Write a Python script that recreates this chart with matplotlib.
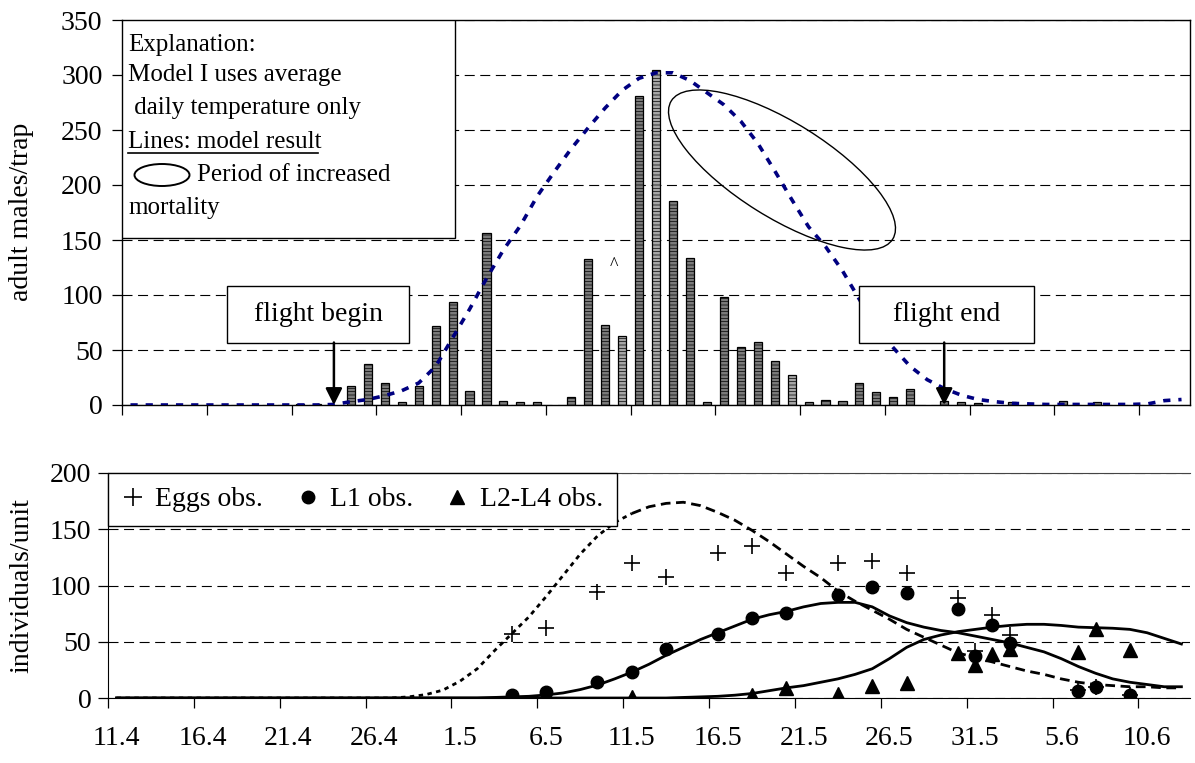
import numpy as np
import pandas as pd
import matplotlib
matplotlib.use('Agg')
import matplotlib.pyplot as plt
from matplotlib.patches import Ellipse, Rectangle
from matplotlib.lines import Line2D

plt.rcParams['font.family'] = ['Liberation Serif', 'DejaVu Serif']
plt.rcParams['hatch.linewidth'] = 0.5

# daily categories 11.4 ... 12.6
days = pd.date_range('2003-04-11', periods=63)
day_labels = ['%d.%d' % (d.day, d.month) for d in days]

# adult males per trap (bars)
adult_dates = ['21.4', '22.4', '24.4', '25.4', '26.4', '27.4', '28.4', '29.4', '30.4',
               '1.5', '2.5', '3.5', '4.5', '5.5', '7.5', '8.5', '9.5', '10.5', '11.5',
               '12.5', '13.5', '14.5', '15.5', '16.5', '17.5', '18.5', '19.5', '20.5',
               '21.5', '22.5', '23.5', '24.5', '25.5', '26.5', '27.5', '29.5', '30.5',
               '31.5', '2.6', '5.6', '7.6']
adult_counts = [1, 1, 17, 37, 20, 3, 17, 72, 94,
                13, 156, 4, 3, 3, 7, 133, 73, 63, 281,
                305, 185, 134, 3, 98, 53, 57, 40, 27,
                2.5, 4.5, 3.5, 20, 11.5, 7, 15, 4, 2.5,
                1.5, 2.5, 3.5, 2.5]
light_dates = ['10.5', '12.5', '20.5']

# model I, adults
adult_model = [0, 0, 0, 0, 0, 0, 0, 0, 0, 0, 0, 0, 0.5, 3, 5, 8.5, 13, 20, 35, 61,
               87, 115, 141, 163, 190, 212, 233, 252, 270, 286, 297, 302, 302, 295,
               284, 273, 258, 238, 213, 187, 162, 144, 122, 96, 70, 52, 35, 23, 15, 9,
               5, 3, 1.5, 1, 0.5, 0.5, 0.5, 0.5, 0.5, 0.5, 1, 4, 5]

# observations, individuals/unit
egg_dates = ['4.5', '6.5', '9.5', '11.5', '13.5', '16.5', '18.5', '20.5', '23.5',
             '25.5', '27.5', '30.5', '31.5', '1.6', '2.6', '6.6', '7.6', '9.6']
egg_obs = [57, 62, 94, 120, 108, 129, 135, 111, 120, 122, 111, 89, 42, 74, 56, 7, 10, 3]
l1_dates = ['4.5', '6.5', '9.5', '11.5', '13.5', '16.5', '18.5', '20.5', '23.5',
            '25.5', '27.5', '30.5', '31.5', '1.6', '2.6', '6.6', '7.6', '9.6']
l1_obs = [3, 5, 14, 23, 44, 57, 71, 76, 92, 99, 93, 79, 37, 65, 49, 6, 10, 3]
l24_dates = ['11.5', '18.5', '20.5', '23.5', '25.5', '27.5', '30.5', '31.5', '1.6',
             '2.6', '6.6', '7.6', '9.6']
l24_obs = [1, 3, 9, 4, 11, 13, 40, 29, 39, 44, 41, 61, 43]

# model results, individuals/unit
egg_model = [0] * 17 + [1, 3, 7, 15, 26, 42, 57, 72, 90, 109, 128, 144, 156, 164, 170,
                        173, 174, 171, 165, 158, 149, 139, 128, 117, 107, 95, 86, 78,
                        70, 61, 54, 47, 40, 36, 32, 28, 24, 21, 17, 14, 12, 11, 10, 10,
                        9, 9]
l1_model = [0] * 22 + [0.5, 1, 1.5, 2.7, 4.5, 7.5, 11.5, 17, 23, 30, 38, 45, 52, 58, 64,
                       70, 74, 77, 81, 84, 85, 85, 81, 73, 67, 63, 60, 58, 55, 52, 49, 45,
                       41, 35, 28, 22, 17, 14, 12, 10, 10]
l24_model = [0] * 33 + [0.5, 1, 1.5, 2.5, 4, 6.5, 9, 11, 14, 17, 21, 26, 35, 45, 52, 56,
                        59, 61, 63, 64.5, 65.5, 65.5, 64.5, 63, 62.5, 62, 61, 58, 53, 48]

W, H = 1195, 763
pos = {lab: i for i, lab in enumerate(day_labels)}
x = np.arange(len(day_labels))
FS = 20

fig = plt.figure(figsize=(W / 100, H / 100), dpi=100)

# ---------------- top panel ----------------
ax1 = fig.add_axes([122 / W, 1 - 405 / H, 1068 / W, 385 / H])
bx = [pos[d] for d in adult_dates]
cols = ['#a6a6a6' if d in light_dates else '#7a7a7a' for d in adult_dates]
ax1.bar(bx, adult_counts, width=0.48, color=cols, edgecolor='black',
        linewidth=0.9, hatch='-----', zorder=3)
ax1.plot(x, adult_model, color='#000080', lw=2.6, ls=(0, (2.0, 2.2)), zorder=4)

ax1.set_xlim(-0.5, 62.5)
ax1.set_ylim(0, 350)
ax1.set_yticks(np.arange(0, 351, 50))
ax1.set_xticks(np.arange(-0.5, 63, 5))
ax1.tick_params(axis='x', length=7, labelbottom=False, width=0.9)
ax1.tick_params(axis='y', length=7, labelsize=FS, pad=7, width=0.9)
ax1.yaxis.grid(True, color='black', lw=0.8, ls=(0, (9, 5)))
ax1.set_axisbelow(True)
for s in ax1.spines.values():
    s.set_linewidth(1.0)

ax1.text(28.5, 127, '^', fontsize=13, ha='center', va='center', zorder=5)

# explanation box
ax1.add_patch(Rectangle((0, 0.434), 0.312, 0.566, transform=ax1.transAxes,
                        fc='white', ec='black', lw=1, zorder=5))
expl = [('Explanation:', 0.0056, 0.935), ('Model I uses average', 0.0056, 0.857),
        (' daily temperature only', 0.0056, 0.771), ('Lines: model result', 0.0056, 0.683),
        ('Period of increased', 0.070, 0.597), ('mortality', 0.0056, 0.512)]
for t, tx, ty in expl:
    ax1.text(tx, ty, t, transform=ax1.transAxes, fontsize=18, va='center',
             ha='left', zorder=6)
ax1.add_line(Line2D([0.0056, 0.1835], [0.6545, 0.6545], transform=ax1.transAxes,
                    color='black', lw=1.2, zorder=6))
fig.patches.append(Ellipse((1.62, (H - 175) / 100), 0.55, 0.22, fill=False,
                           ec='black', lw=1.4, transform=fig.dpi_scale_trans,
                           zorder=7))
fig.patches.append(Ellipse((7.82, (H - 170) / 100), 2.61, 0.95, angle=-32,
                           fill=False, ec='black', lw=1.0,
                           transform=fig.dpi_scale_trans, zorder=7))

# flight begin / end boxes
for txt, x0, x1, xa in [('flight begin', 5.7, 16.44, 12), ('flight end', 43.0, 53.28, 48)]:
    ax1.add_patch(Rectangle((x0, 56.8), x1 - x0, 51.5, fc='white', ec='black',
                            lw=1, zorder=6))
    ax1.text((x0 + x1) / 2, 82, txt, fontsize=FS, ha='center', va='center', zorder=7)
    ax1.annotate('', xy=(xa, 0), xytext=(xa, 56.8),
                 arrowprops=dict(arrowstyle='-|>', color='black', lw=1.8,
                                 mutation_scale=25, shrinkA=0, shrinkB=0),
                 zorder=7)

fig.text(22 / W, 1 - 212 / H, 'adult males/trap', rotation=90, fontsize=FS,
         ha='center', va='center')

# ---------------- bottom panel ----------------
ax2 = fig.add_axes([108 / W, 1 - 698 / H, 1082 / W, 225 / H])
ax2.plot(x[:31], egg_model[:31], color='black', lw=2, ls=(0, (1.6, 1.6)), zorder=3)
ax2.plot(x[30:], egg_model[30:], color='black', lw=2, ls=(0, (3.5, 2)), zorder=3)
ax2.plot(x, l1_model, color='black', lw=2, zorder=3)
ax2.plot(x, l24_model, color='black', lw=2, zorder=3)

ax2.plot([pos[d] for d in egg_dates], egg_obs, ls='none', marker='+',
         ms=12, mew=1.2, color='black', zorder=4)
ax2.plot([pos[d] for d in l1_dates], l1_obs, ls='none', marker='o',
         ms=9, color='black', zorder=4)
ax2.plot([pos[d] for d in l24_dates], l24_obs, ls='none', marker='^',
         ms=10, color='black', zorder=4)

ax2.set_xlim(-0.5, 62.5)
ax2.set_ylim(0, 200)
ax2.set_yticks(np.arange(0, 201, 50))
ax2.set_xticks(np.arange(-0.5, 63, 5))
ax2.set_xticklabels([])
ax2.set_xticks(x[::5], minor=True)
ax2.set_xticklabels(day_labels[::5], minor=True)
ax2.tick_params(axis='x', which='major', length=7, width=0.9)
ax2.tick_params(axis='x', which='minor', length=0, labelsize=FS, pad=20)
ax2.tick_params(axis='y', length=7, labelsize=FS, pad=5, width=0.9)
ax2.yaxis.grid(True, color='black', lw=0.8, ls=(0, (9, 5)))
ax2.set_axisbelow(True)
ax2.spines['right'].set_visible(False)
ax2.spines['top'].set_color('#444444')

handles = [Line2D([], [], ls='none', marker='+', ms=13, mew=1.2, color='black'),
           Line2D([], [], ls='none', marker='o', ms=9, color='black'),
           Line2D([], [], ls='none', marker='^', ms=10, color='black')]
leg = ax2.legend(handles, ['Eggs obs.', 'L1 obs.', 'L2-L4 obs.'], ncol=3,
                 loc='upper left', bbox_to_anchor=(0, 1), borderaxespad=0,
                 fontsize=FS, frameon=True, fancybox=False, edgecolor='black',
                 framealpha=1, handlelength=0.8, handletextpad=0.4,
                 columnspacing=1.2, borderpad=0.5)
leg.get_frame().set_linewidth(1)
leg.set_zorder(10)

fig.text(22 / W, 1 - 586 / H, 'individuals/unit', rotation=90, fontsize=FS,
         ha='center', va='center')

fig.savefig('out.png', dpi=100)
